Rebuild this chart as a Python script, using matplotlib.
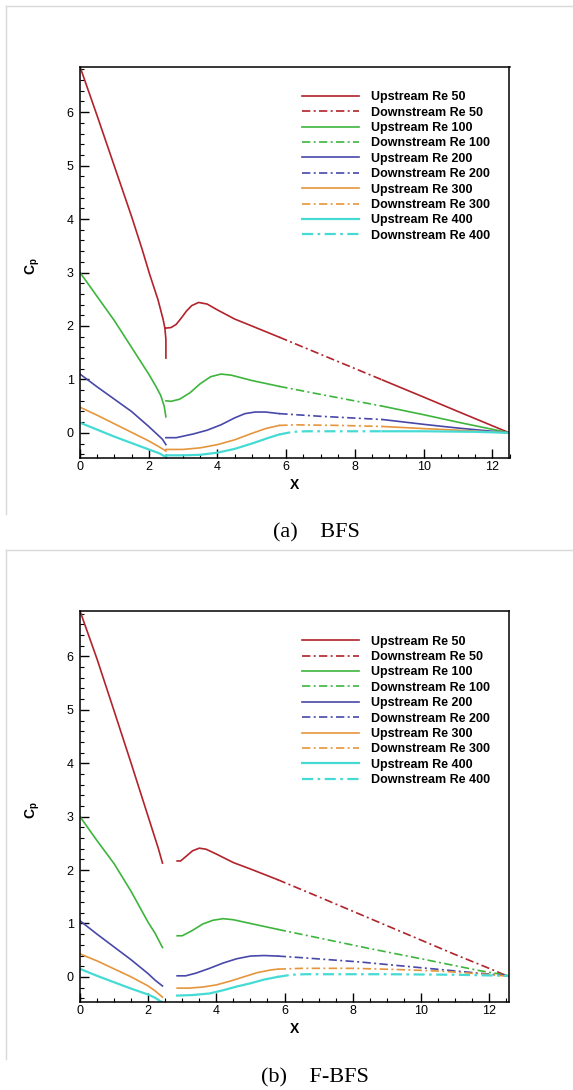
import numpy as np
import matplotlib
matplotlib.use('Agg')
import matplotlib.pyplot as plt
from matplotlib.lines import Line2D
from matplotlib.ticker import MultipleLocator

nan = np.nan

# Re numbers shown in the legend
re_values = [50, 100, 200, 300, 400]

# ---- (a) BFS : Cp along x, solid = upstream, dash-dot = downstream ----
bfs_re50_up_x = [0, 0.5, 1.0, 1.5, 1.81, 2.03, 2.27, 2.42, 2.47, 2.5, 2.5, nan,
                 2.5, 2.65, 2.8, 2.95, 3.1, 3.25, 3.45, 3.7, 4.0, 4.5, 5.0, 5.8, nan,
                 8.8, 10.0, 11.0, 12.5]
bfs_re50_up_y = [6.85, 5.93, 4.99, 4.05, 3.43, 2.96, 2.49, 2.12, 1.96, 1.75, 1.40, nan,
                 1.96, 1.97, 2.03, 2.15, 2.28, 2.38, 2.44, 2.41, 2.3, 2.13, 2.0, 1.79, nan,
                 0.99, 0.67, 0.40, 0.0]
bfs_re50_dn_x = [5.8, 7.0, 8.8]
bfs_re50_dn_y = [1.79, 1.47, 0.99]

bfs_re100_up_x = [0, 0.5, 1.0, 1.5, 2.0, 2.2, 2.35, 2.45, 2.5, nan,
                  2.5, 2.65, 2.9, 3.2, 3.5, 3.8, 4.1, 4.4, 5.0, 5.8, nan,
                  8.8, 10.0, 11.0, 12.5]
bfs_re100_up_y = [3.0, 2.55, 2.1, 1.6, 1.1, 0.88, 0.7, 0.5, 0.3, nan,
                  0.6, 0.59, 0.63, 0.75, 0.92, 1.05, 1.1, 1.08, 0.98, 0.87, nan,
                  0.5, 0.34, 0.2, 0.0]
bfs_re100_dn_x = [5.8, 7.0, 8.8]
bfs_re100_dn_y = [0.87, 0.72, 0.5]

bfs_re200_up_x = [0, 0.5, 1.0, 1.5, 2.0, 2.25, 2.4, 2.5, nan,
                  2.5, 2.8, 3.3, 3.7, 4.1, 4.5, 4.8, 5.1, 5.4, 5.8, nan,
                  8.8, 10.0, 11.0, 12.5]
bfs_re200_up_y = [1.1, 0.86, 0.63, 0.4, 0.12, -0.03, -0.12, -0.22, nan,
                  -0.09, -0.09, -0.02, 0.05, 0.15, 0.28, 0.36, 0.39, 0.39, 0.36, nan,
                  0.25, 0.16, 0.09, 0.0]
bfs_re200_dn_x = [5.8, 7.0, 8.8]
bfs_re200_dn_y = [0.36, 0.31, 0.25]

bfs_re300_up_x = [0, 0.5, 1.0, 1.5, 2.0, 2.3, 2.5, nan,
                  2.5, 3.0, 3.5, 4.0, 4.5, 5.0, 5.4, 5.8, nan,
                  8.8, 10.0, 11.0, 12.5]
bfs_re300_up_y = [0.48, 0.33, 0.17, 0.01, -0.15, -0.26, -0.34, nan,
                  -0.31, -0.31, -0.28, -0.22, -0.13, -0.01, 0.08, 0.14, nan,
                  0.12, 0.08, 0.05, 0.0]
bfs_re300_dn_x = [5.8, 6.3, 7.5, 8.8]
bfs_re300_dn_y = [0.14, 0.15, 0.14, 0.12]

bfs_re400_up_x = [0, 0.5, 1.0, 1.5, 2.0, 2.3, 2.5, nan,
                  2.5, 3.0, 3.5, 4.0, 4.5, 5.0, 5.5, 5.8, nan,
                  8.8, 10.0, 11.5, 12.5]
bfs_re400_up_y = [0.19, 0.06, -0.07, -0.19, -0.31, -0.38, -0.45, nan,
                  -0.42, -0.42, -0.41, -0.37, -0.3, -0.2, -0.09, -0.03, nan,
                  0.03, 0.03, 0.02, 0.0]
bfs_re400_dn_x = [5.8, 6.2, 6.6, 8.8]
bfs_re400_dn_y = [-0.03, 0.02, 0.03, 0.03]

# ---- (b) F-BFS ----
fbfs_re50_up_x = [0, 0.5, 1.0, 1.5, 2.0, 2.3, 2.42, nan,
                  2.85, 2.95, 3.1, 3.3, 3.5, 3.7, 4.0, 4.5, 5.0, 5.8]
fbfs_re50_up_y = [6.85, 5.95, 4.98, 4.0, 3.0, 2.4, 2.13, nan,
                  2.17, 2.17, 2.25, 2.36, 2.41, 2.39, 2.3, 2.14, 2.02, 1.82]
fbfs_re50_dn_x = [5.8, 7.0, 8.0, 9.0, 10.0, 11.0, 12.0, 12.6]
fbfs_re50_dn_y = [1.82, 1.5, 1.23, 0.96, 0.69, 0.42, 0.16, 0.0]

fbfs_re100_up_x = [0, 0.5, 1.0, 1.5, 2.0, 2.2, 2.42, nan,
                   2.85, 3.0, 3.3, 3.6, 3.9, 4.2, 4.5, 5.0, 5.8]
fbfs_re100_up_y = [3.0, 2.55, 2.12, 1.6, 1.02, 0.82, 0.55, nan,
                   0.77, 0.77, 0.87, 0.99, 1.06, 1.09, 1.07, 1.0, 0.89]
fbfs_re100_dn_x = [5.8, 7.0, 8.5, 10.0, 11.7, 12.6]
fbfs_re100_dn_y = [0.89, 0.73, 0.53, 0.34, 0.12, 0.02]

fbfs_re200_up_x = [0, 0.5, 1.0, 1.5, 2.0, 2.2, 2.42, nan,
                   2.85, 3.1, 3.4, 3.8, 4.2, 4.6, 5.0, 5.4, 5.8]
fbfs_re200_up_y = [1.05, 0.8, 0.56, 0.32, 0.06, -0.06, -0.17, nan,
                   0.02, 0.02, 0.07, 0.16, 0.26, 0.34, 0.39, 0.40, 0.39]
fbfs_re200_dn_x = [5.8, 6.5, 8.2, 10.2, 11.7, 12.6]
fbfs_re200_dn_y = [0.39, 0.36, 0.28, 0.16, 0.07, 0.02]

fbfs_re300_up_x = [0, 0.5, 1.0, 1.5, 2.0, 2.2, 2.42, nan,
                   2.85, 3.2, 3.6, 4.0, 4.4, 4.8, 5.2, 5.6, 5.8]
fbfs_re300_up_y = [0.43, 0.3, 0.15, 0.0, -0.17, -0.26, -0.38, nan,
                   -0.21, -0.21, -0.19, -0.15, -0.08, 0.0, 0.08, 0.13, 0.145]
fbfs_re300_dn_x = [5.8, 6.5, 8.0, 9.2, 10.5, 11.7, 12.6]
fbfs_re300_dn_y = [0.145, 0.16, 0.16, 0.14, 0.11, 0.06, 0.01]

fbfs_re400_up_x = [0, 0.5, 1.0, 1.5, 2.0, 2.2, 2.42, nan,
                   2.85, 3.3, 3.8, 4.2, 4.6, 5.0, 5.4, 5.8]
fbfs_re400_up_y = [0.15, 0.02, -0.1, -0.22, -0.33, -0.39, -0.48, nan,
                   -0.35, -0.34, -0.31, -0.25, -0.18, -0.12, -0.05, 0.0]
fbfs_re400_dn_x = [5.8, 6.2, 6.6, 9.0, 11.0, 12.6]
fbfs_re400_dn_y = [0.0, 0.04, 0.05, 0.05, 0.04, 0.02]

colors = ['#b2232b', '#3db53d', '#4848aa', '#e5963c', '#45dbd4']

SANS = 'Liberation Sans'
SERIF = 'Liberation Serif'
plt.rcParams['font.family'] = SANS
plt.rcParams['mathtext.fontset'] = 'custom'
plt.rcParams['mathtext.rm'] = SANS
plt.rcParams['mathtext.bf'] = SANS + ':bold'

W, H = 573, 1090
fig = plt.figure(figsize=(W / 100, H / 100), dpi=100)


def px_box(left, top, right, bottom):
    # pixel box -> figure fraction rect
    return [left / W, 1 - bottom / H, (right - left) / W, (bottom - top) / H]


def frame(top, bottom):
    # light grey frame around each sub-figure (top + left edge only)
    fig.add_artist(Line2D([5.5 / W, 572 / W], [1 - top / H, 1 - top / H],
                          color='#d9d9d9', lw=1))
    fig.add_artist(Line2D([5.5 / W, 5.5 / W], [1 - top / H, 1 - bottom / H],
                          color='#d9d9d9', lw=1))


def panel(rect, xmax, curves):
    ax = fig.add_axes(rect)
    dash = (0, (5, 2, 1.2, 2))
    for i, (ux, uy, dx, dy) in enumerate(curves):
        lw = 1.6 if i == 4 else 1.2
        ax.plot(ux, uy, color=colors[i], lw=lw, label='Upstream Re %d' % re_values[i])
        ax.plot(dx, dy, color=colors[i], lw=lw, linestyle=dash,
                label='Downstream Re %d' % re_values[i])
    ax.set_xlim(0, xmax)
    ax.set_ylim(-0.47, 6.85)
    ax.xaxis.set_major_locator(MultipleLocator(2))
    ax.xaxis.set_minor_locator(MultipleLocator(0.5))
    ax.yaxis.set_major_locator(MultipleLocator(1))
    ax.yaxis.set_minor_locator(MultipleLocator(0.2))
    ax.tick_params(which='both', direction='in', top=False, right=False, labelsize=9)
    ax.tick_params(which='major', length=6.3, width=1.0)
    ax.tick_params(which='minor', length=3.2, width=0.8)
    ax.tick_params(axis='x', pad=2.5)
    ax.tick_params(axis='y', pad=4.5)
    for s in ax.spines.values():
        s.set_linewidth(1.1)
    ax.set_xlabel('X', fontsize=10, fontweight='bold')
    ax.xaxis.set_label_coords(0.5, -0.05)
    ax.set_ylabel(r'$\mathbf{C_p}$', fontsize=10)
    ax.yaxis.set_label_coords(-0.088, 0.49)
    ax.legend(loc='upper left', bbox_to_anchor=(0.518, 0.937), frameon=False,
              prop={'family': SANS, 'weight': 'bold', 'size': 9},
              handlelength=4.55, handletextpad=0.9, labelspacing=0.27,
              borderpad=0, borderaxespad=0)
    return ax


frame(5.5, 514)
panel(px_box(80, 66.7, 509.5, 458), 12.5, [
    (bfs_re50_up_x, bfs_re50_up_y, bfs_re50_dn_x, bfs_re50_dn_y),
    (bfs_re100_up_x, bfs_re100_up_y, bfs_re100_dn_x, bfs_re100_dn_y),
    (bfs_re200_up_x, bfs_re200_up_y, bfs_re200_dn_x, bfs_re200_dn_y),
    (bfs_re300_up_x, bfs_re300_up_y, bfs_re300_dn_x, bfs_re300_dn_y),
    (bfs_re400_up_x, bfs_re400_up_y, bfs_re400_dn_x, bfs_re400_dn_y),
])
fig.text(316 / W, 1 - 533 / H, '(a)    BFS', ha='center', va='center',
         family=SERIF, fontsize=16)

frame(550, 1059)
panel(px_box(80, 611, 509.5, 1002), 12.6, [
    (fbfs_re50_up_x, fbfs_re50_up_y, fbfs_re50_dn_x, fbfs_re50_dn_y),
    (fbfs_re100_up_x, fbfs_re100_up_y, fbfs_re100_dn_x, fbfs_re100_dn_y),
    (fbfs_re200_up_x, fbfs_re200_up_y, fbfs_re200_dn_x, fbfs_re200_dn_y),
    (fbfs_re300_up_x, fbfs_re300_up_y, fbfs_re300_dn_x, fbfs_re300_dn_y),
    (fbfs_re400_up_x, fbfs_re400_up_y, fbfs_re400_dn_x, fbfs_re400_dn_y),
])
fig.text(315 / W, 1 - 1078 / H, '(b)    F-BFS', ha='center', va='center',
         family=SERIF, fontsize=16)

fig.savefig('out.png', dpi=100)
